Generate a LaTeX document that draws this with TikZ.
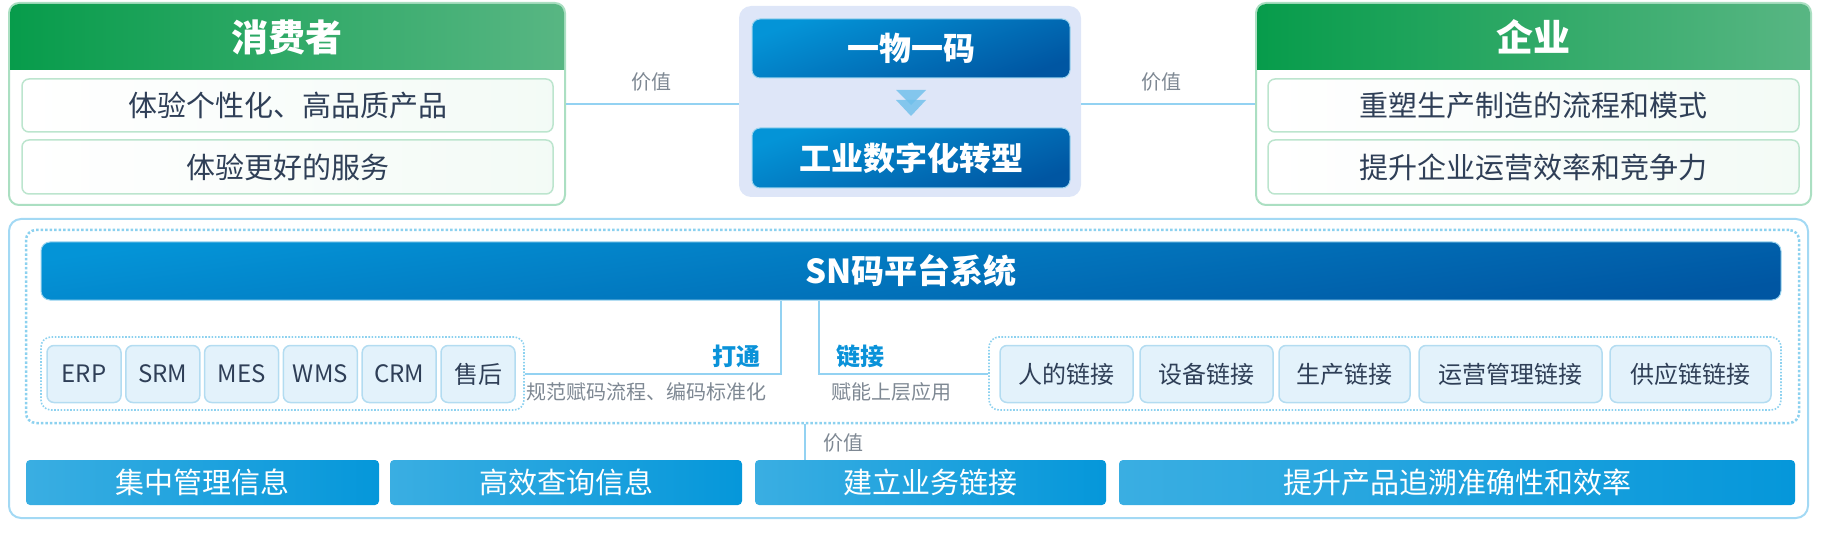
\documentclass[tikz,border=0pt]{standalone}
\usepackage{fontspec}
\setmainfont{Noto Sans CJK SC}
\usetikzlibrary{calc}
\definecolor{LeafGreen}{HTML}{079C4B}
\definecolor{PaleLeaf}{HTML}{58B683}
\definecolor{MintLine}{HTML}{ABDFC2}
\definecolor{MintFill}{HTML}{DDF2E5}
\definecolor{InkSlate}{HTML}{2F3F57}
\definecolor{SkyLine}{HTML}{93D2F2}
\definecolor{DotBlue}{HTML}{8CD1EF}
\definecolor{CodeBlue}{HTML}{0494D7}
\definecolor{DeepBlue}{HTML}{0056A2}
\definecolor{Lavender}{HTML}{DEE6F8}
\definecolor{ChipFill}{HTML}{E3F2FB}
\definecolor{ChipLine}{HTML}{B3DCF1}
\definecolor{TagBlue}{HTML}{0A92D9}
\definecolor{SoftGray}{HTML}{7E8893}
\definecolor{BarLight}{HTML}{3AAEE2}
\definecolor{BarDark}{HTML}{0597DA}
\definecolor{TriBlue}{HTML}{6DBFEB}

\begin{document}
\begin{tikzpicture}[x=1pt,y=-1pt,
  panel/.style={draw=MintLine,line width=2pt,fill=white,rounded corners=10pt,inner sep=0pt},
  headline/.style={text=white,font=\fontsize{37}{40}\selectfont\bfseries},
  benefit/.style={draw=MintLine!80,line width=1.5pt,rounded corners=7pt,left color=white,middle color=MintFill,right color=MintFill!35,
    minimum width=531pt,text=InkSlate,font=\fontsize{29}{32}\selectfont},
  codebox/.style={draw=white!60!CodeBlue,line width=1pt,rounded corners=8pt,top color=CodeBlue,bottom color=DeepBlue,shading angle=20,
    text=white,font=\fontsize{32}{35}\selectfont\bfseries},
  link/.style={draw=SkyLine,line width=2.5pt},
  note/.style={text=SoftGray,font=\fontsize{20}{22}\selectfont},
  tag/.style={text=TagBlue,font=\fontsize{24}{26}\selectfont\bfseries},
  dotframe/.style={draw=DotBlue,line width=1.6pt,dash pattern=on 1.6pt off 1.6pt,rounded corners=10pt,inner sep=0pt},
  chip/.style={draw=ChipLine,line width=1.5pt,fill=ChipFill,rounded corners=7pt,minimum height=57pt,inner sep=0pt,
    text=InkSlate,font=\fontsize{24}{26}\selectfont},
  result/.style={rounded corners=4pt,left color=BarLight,right color=BarDark,minimum height=45pt,inner sep=0pt,
    text=white,font=\fontsize{29}{32}\selectfont}]
  \useasboundingbox (0,0) rectangle (1822,537);

  \node[panel,minimum width=556pt,minimum height=202pt] (consumer) at (287,104) {};
  \shade[left color=LeafGreen,right color=PaleLeaf] (10,70) [rounded corners=9pt] -- (10,4) -- (564,4) [sharp corners] -- (564,70) -- cycle;
  \draw[white,line width=1.5pt] (11,71) -- (563,71);
  \node[headline] (consTitle) at (287,37) {消费者};
  \node[benefit,minimum height=53pt] (consRowA) at (287.5,105.5) {体验个性化、高品质产品};
  \node[benefit,minimum height=54pt] (consRowB) at (287.5,167) {体验更好的服务};

  \node[panel,minimum width=555pt,minimum height=202pt] (firm) at (1533.5,104) {};
  \shade[left color=LeafGreen,right color=PaleLeaf] (1257,70) [rounded corners=9pt] -- (1257,4) -- (1810,4) [sharp corners] -- (1810,70) -- cycle;
  \draw[white,line width=1.5pt] (1258,71) -- (1809,71);
  \node[headline] (firmTitle) at (1533,37) {企业};
  \node[benefit,minimum height=53pt] (firmRowA) at (1533.5,105.5) {重塑生产制造的流程和模式};
  \node[benefit,minimum height=54pt] (firmRowB) at (1533.5,167) {提升企业运营效率和竞争力};

  \node[fill=Lavender,rounded corners=12pt,minimum width=342pt,minimum height=191pt] (hub) at (910,101.5) {};
  \node[codebox,minimum width=318pt,minimum height=59pt] (oneCode) at (911,48.5) {一物一码};
  \node[codebox,minimum width=318pt,minimum height=60pt] (digital) at (911,158) {工业数字化转型};
  \coordinate (midArrow) at ($(oneCode.south)!.5!(digital.north)$);
  \fill[TriBlue,opacity=.8] ($(midArrow)+(-15,-13)$) -- ++(30,0) -- ++(-15,15) -- cycle;
  \fill[TriBlue,opacity=.8] ($(midArrow)+(-15,-3)$) -- ++(30,0) -- ++(-15,16) -- cycle;

  \draw[link] (consumer.east) -- (consumer.east -| hub.west);
  \draw[link] (hub.east |- firm.west) -- (firm.west);
  \node[note] (valLeft) at (651,82) {价值};
  \node[note] (valRight) at (1161,82) {价值};

  \node[draw=SkyLine!85,line width=2pt,rounded corners=12pt,minimum width=1799pt,minimum height=299pt] (base) at (908.5,368.5) {};
  \node[dotframe,line width=2.5pt,dash pattern=on 2.5pt off 2pt,minimum width=1773pt,minimum height=193pt] (platform) at (912.5,326.5) {};
  \node[codebox,rounded corners=9pt,shading angle=8,minimum width=1740pt,minimum height=58pt,font=\fontsize{33}{36}\selectfont\bfseries] (snbar) at (911,271) {SN码平台系统};

  \node[dotframe,minimum width=483pt,minimum height=73pt] (leftGroup) at (282.5,373.5) {};
  \foreach \name [count=\i from 0] in {ERP,SRM,MES,WMS,CRM,售后}
    \node[chip,minimum width=74pt] (sys\i) at ({84+78.8*\i},374) {\name};
  \node[dotframe,minimum width=792pt,minimum height=73pt] (rightGroup) at (1385,373.5) {};
  \foreach \x/\w/\t [count=\i] in {1066.5/133/人的链接,1206.5/133/设备链接,1344.5/131/生产链接,1510.5/183/运营管理链接,1690.5/161/供应链链接}
    \node[chip,minimum width=\w pt] (conn\i) at (\x,374) {\t};

  \draw[link,line width=2pt] ([xshift=-130pt]snbar.south) |- (leftGroup.east);
  \draw[link,line width=2pt] ([xshift=-92pt]snbar.south) |- (rightGroup.west);
  \node[tag,anchor=east] (tagOpen) at (764,356) {打通};
  \node[tag,anchor=west] (tagLink) at (833,356) {链接};
  \node[note,anchor=east] (openNote) at (770,392) {规范赋码流程、编码标准化};
  \node[note,anchor=west] (linkNote) at (828,392) {赋能上层应用};

  \foreach \x/\w/\t [count=\i] in {202.5/353/集中管理信息,566/352/高效查询信息,930.5/351/建立业务链接,1457/676/提升产品追溯准确性和效率}
    \node[result,minimum width=\w pt] (res\i) at (\x,482.5) {\t};
  \coordinate (valX) at (805,440);
  \draw[link,line width=2pt] (platform.south -| valX) -- (valX |- res3.north);
  \node[note,anchor=west] (valBottom) at (820,443) {价值};
\end{tikzpicture}
\end{document}
